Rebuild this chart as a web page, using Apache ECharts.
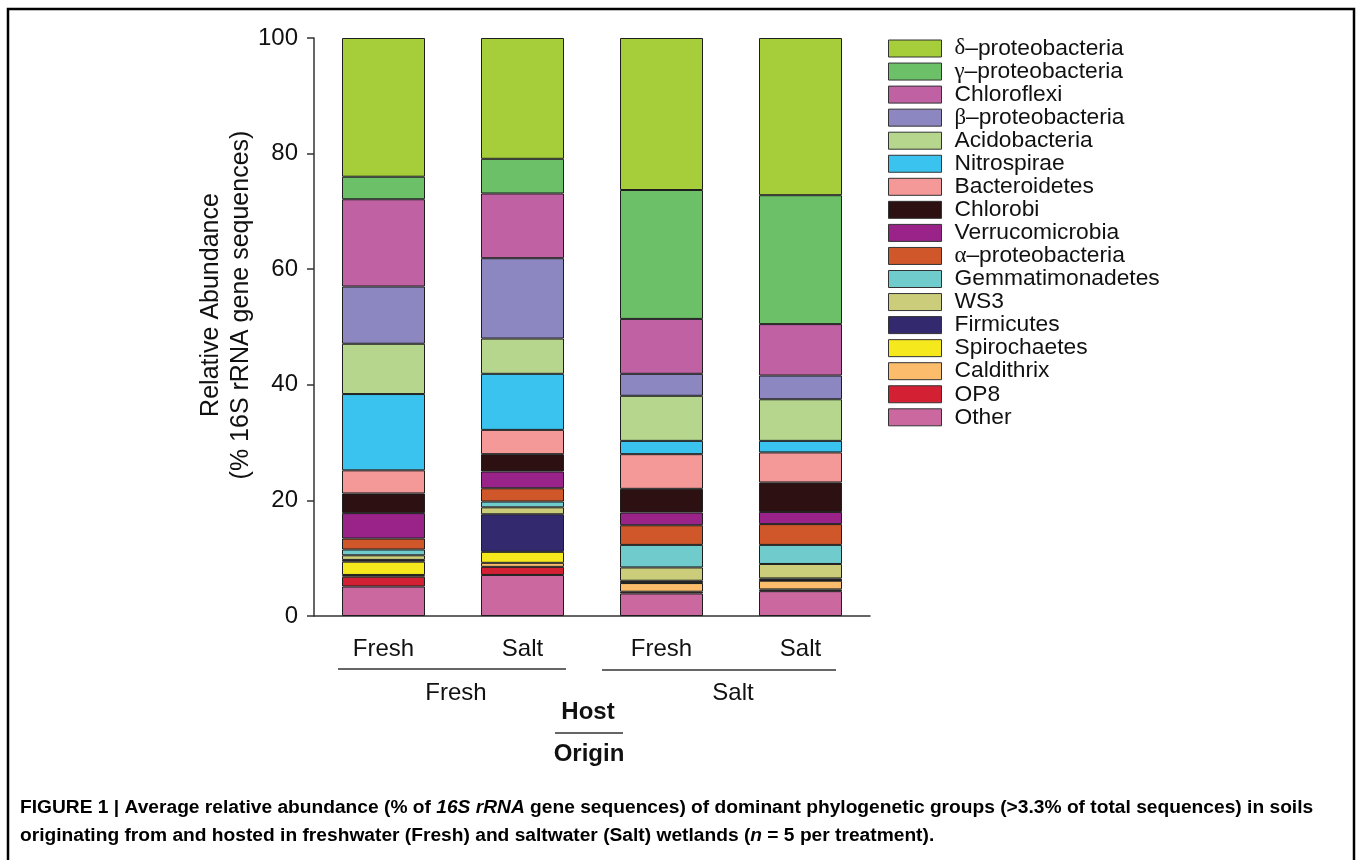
<!DOCTYPE html>
<html>
<head>
<meta charset="utf-8">
<script src="https://cdn.jsdelivr.net/npm/echarts@6/dist/echarts.min.js"></script>
<style>
  html, body { margin: 0; padding: 0; background: #fff; }
  #graph { width: 1357px; height: 860px; }
</style>
</head>
<body>
<div id="graph"></div>
<script>
"use strict"

// origin / host for each bar
const categories = ["Fresh/Fresh", "Fresh/Salt", "Salt/Fresh", "Salt/Salt"];
const hostLabels = ["Fresh", "Salt", "Fresh", "Salt"];
const originLabels = ["Fresh", "Salt"];
const yTicks = [0, 20, 40, 60, 80, 100];

// groups listed from the bottom of the stack up
const groups = ["Other", "OP8", "Caldithrix", "Spirochaetes", "Firmicutes", "WS3", "Gemmatimonadetes",
    "α–proteobacteria", "Verrucomicrobia", "Chlorobi", "Bacteroidetes", "Nitrospirae", "Acidobacteria",
    "β–proteobacteria", "Chloroflexi", "γ–proteobacteria", "δ–proteobacteria"];

const other = [5.1, 7.1, 3.9, 4.3];
const op8 = [1.7, 1.4, 0.3, 0.3];
const caldithrix = [0.3, 0.7, 1.5, 1.5];
const spirochaetes = [2.3, 1.9, 0.1, 0.1];
const firmicutes = [0.3, 6.5, 0.3, 0.3];
const ws3 = [0.8, 1.2, 2.3, 2.5];
const gemmatimonadetes = [1.0, 1.0, 3.9, 3.3];
const alphaProteo = [1.9, 2.3, 3.4, 3.6];
const verrucomicrobia = [4.4, 2.9, 2.2, 2.1];
const chlorobi = [3.4, 3.0, 4.1, 5.1];
const bacteroidetes = [4.0, 4.2, 6.0, 5.2];
const nitrospirae = [13.2, 9.7, 2.3, 2.0];
const acidobacteria = [8.7, 6.1, 7.8, 7.2];
const betaProteo = [9.9, 13.9, 3.8, 4.1];
const chloroflexi = [15.1, 11.2, 9.5, 8.9];
const gammaProteo = [3.9, 6.0, 22.3, 22.3];
const deltaProteo = [24.0, 20.9, 26.3, 27.2];

const values = [other, op8, caldithrix, spirochaetes, firmicutes, ws3, gemmatimonadetes, alphaProteo,
    verrucomicrobia, chlorobi, bacteroidetes, nitrospirae, acidobacteria, betaProteo, chloroflexi,
    gammaProteo, deltaProteo];

const colors = ["#cc68a0", "#d32033", "#fbbc6c", "#f5e81c", "#32296f", "#cccd7a", "#6fcbcc",
    "#cf5729", "#992389", "#2d1012", "#f49898", "#3ac3ee", "#b5d68c",
    "#8c87c0", "#bf61a2", "#6cc068", "#a6cd3a"];

const FONT = "Liberation Sans, Arial, sans-serif";

const series = groups.map((name, i) =>
    ({
        name: name,
        type: "bar",
        stack: "all",
        barWidth: 83,
        data: values[i],
        itemStyle: { color: colors[i], borderColor: "#1e1e1e", borderWidth: 1 },
        emphasis: { disabled: true }
    }));

// greek prefix is set in a serif face, as in the figure
const legendName = name => /^[αβγδ]/.test(name) ? `{g|${name[0]}}{t|${name.slice(1)}}` : `{t|${name}}`;

const caption1 = "{b|FIGURE 1 | Average relative abundance (% of }{i|16S rRNA}{b| gene sequences) of dominant phylogenetic groups (>3.3% of total sequences) in soils}";
const caption2 = "{b|originating from and hosted in freshwater (Fresh) and saltwater (Salt) wetlands (}{i|n}{b| = 5 per treatment).}";
const captionRich = {
    b: { fontFamily: FONT, fontWeight: "bold", fontSize: 19.2, color: "#111" },
    i: { fontFamily: FONT, fontWeight: "bold", fontStyle: "italic", fontSize: 19.2, color: "#111" }
};

const text = (x, y, str, extra) => ({
    type: "text", x: x, y: y, silent: true,
    style: Object.assign({ text: str, fontFamily: FONT, fontSize: 24, fill: "#111", align: "center", verticalAlign: "middle" }, extra)
});
const hline = (x1, x2, y) => ({
    type: "line", silent: true,
    shape: { x1: x1, y1: y, x2: x2, y2: y },
    style: { stroke: "#333", lineWidth: 1.5 }
});

const option = {
    animation: false,
    backgroundColor: "#fff",
    grid: { left: 314, top: 38, width: 556, bottom: 244, containLabel: false },
    legend: {
        orient: "vertical",
        left: 883,
        top: 32,
        icon: "rect",
        itemWidth: 53,
        itemHeight: 17,
        itemGap: 0.05,
        selectedMode: false,
        data: groups.slice().reverse(),
        itemStyle: { borderColor: "#333", borderWidth: 1 },
        formatter: legendName,
        textStyle: {
            padding: [0, 0, 0, 8],
            rich: {
                g: { fontFamily: "Liberation Serif, serif", fontSize: 22.8, color: "#111" },
                t: { fontFamily: FONT, fontSize: 22.8, color: "#111" }
            }
        }
    },
    xAxis: {
        type: "category",
        data: categories,
        axisLine: { lineStyle: { color: "#333", width: 1.5 } },
        axisTick: { alignWithLabel: true, length: 8, lineStyle: { color: "#333", width: 1.5 } },
        axisLabel: {
            margin: 21, fontFamily: FONT, fontSize: 24, color: "#111",
            formatter: (v, idx) => hostLabels[idx]
        }
    },
    yAxis: {
        type: "value",
        min: yTicks[0],
        max: yTicks[yTicks.length - 1],
        interval: 20,
        splitLine: { show: false },
        axisLine: { show: true, lineStyle: { color: "#333", width: 1.5 } },
        axisTick: { show: true, length: 7, lineStyle: { color: "#333", width: 1.5 } },
        axisLabel: { margin: 16, fontFamily: FONT, fontSize: 24, color: "#111" }
    },
    series: series,
    graphic: [
        // figure frame (open at the bottom)
        {
            type: "polyline", silent: true,
            shape: { points: [[8, 860], [8, 9], [1354, 9], [1354, 860]] },
            style: { stroke: "#000", lineWidth: 2.5, fill: null }
        },
        // y axis title
        {
            type: "text", x: 226, y: 305, rotation: Math.PI / 2, silent: true,
            style: {
                text: "Relative Abundance\n(% 16S rRNA gene sequences)",
                fontFamily: FONT, fontSize: 25, lineHeight: 30, fill: "#111",
                align: "center", verticalAlign: "middle"
            }
        },
        // origin brackets
        hline(338, 566, 669),
        hline(602, 836, 670),
        text(456, 693, originLabels[0]),
        text(733, 693, originLabels[1]),
        // Host / Origin key
        text(588, 712, "Host", { fontWeight: "bold" }),
        hline(555, 623, 733),
        text(589, 754, "Origin", { fontWeight: "bold" }),
        // caption
        {
            type: "text", x: 20, y: 808, silent: true,
            style: { text: caption1, rich: captionRich, align: "left", verticalAlign: "middle" }
        },
        {
            type: "text", x: 20, y: 836, silent: true,
            style: { text: caption2, rich: captionRich, align: "left", verticalAlign: "middle" }
        }
    ]
};

const myChart = echarts.init(document.getElementById("graph"), null, { renderer: "canvas" });
myChart.setOption(option);
</script>
</body>
</html>
